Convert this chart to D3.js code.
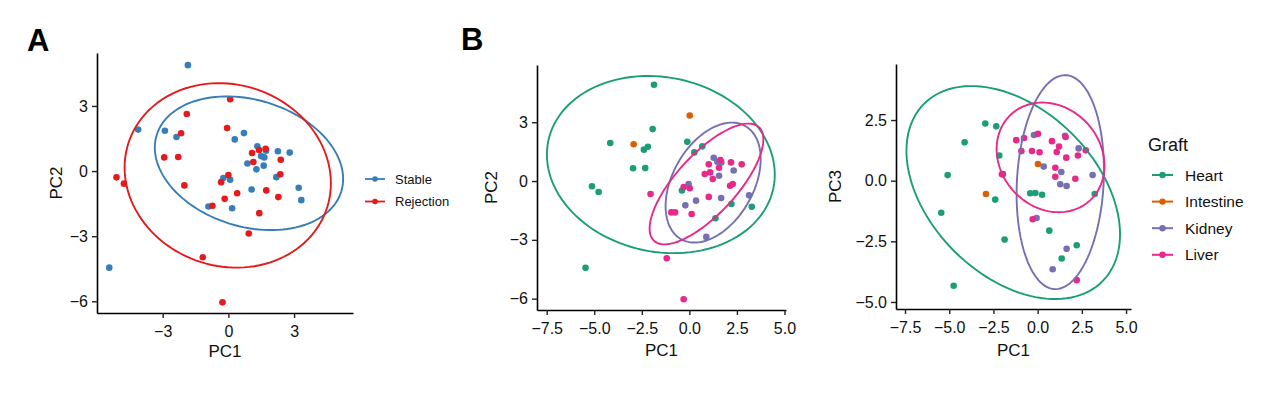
<!DOCTYPE html>
<html>
<head>
<meta charset="utf-8">
<script src="https://cdn.jsdelivr.net/npm/d3@7"></script>
<style>
  html, body { margin: 0; padding: 0; background: #fff; }
  svg { display: block; font-family: "Liberation Sans", Arial, Helvetica, sans-serif; }
</style>
</head>
<body>
<svg id="chart" width="1275" height="395"></svg>
<script>
// ---------------- DATA ----------------
// Panel A: PC1 vs PC2 by status
const statusGroups = ["Stable", "Rejection"];
const stablePoints = [
  [-1.85, 4.88], [-4.12, 1.91], [-2.90, 1.86], [-2.37, 1.57], [0.29, 1.46], [0.71, 1.75],
  [1.32, 1.14], [1.72, 0.94], [2.26, 0.91], [2.80, 0.85], [1.49, 0.69], [1.64, 0.63],
  [0.87, 0.35], [1.28, 0.08], [1.61, 0.25], [2.19, -0.28], [-0.23, -0.32], [0.08, -0.40],
  [1.06, -0.85], [3.21, -0.77], [3.33, -1.34], [-0.91, -1.63], [0.17, -1.71], [-5.44, -4.45]
];
const rejectionPoints = [
  [0.08, 3.31], [-1.90, 2.63], [-0.06, 1.98], [-2.16, 1.74], [-2.93, 0.63], [-2.29, 0.65],
  [1.08, 0.83], [1.40, 0.97], [1.70, 1.03], [1.14, 0.42], [2.39, 0.52], [-5.11, -0.29],
  [-4.77, -0.58], [-2.01, -0.66], [-0.33, -0.51], [0.00, -0.18], [-0.17, -1.28], [0.40, -1.02],
  [1.73, -0.89], [2.37, -0.15], [2.28, -1.20], [-0.73, -1.60], [1.41, -1.94], [0.93, -2.88],
  [-1.17, -3.97], [-0.27, -6.05]
];
// ellipses: [centerX, centerY, halfWidth, halfHeight, covarianceXY]
const stableEllipse = [0.94, 0.36, 4.3, 3.08, -3.1];
const rejectionEllipse = [-0.03, -0.2, 4.71, 4.25, -1.7];

// Panel B/C: by graft
const graftGroups = ["Heart", "Intestine", "Kidney", "Liver"];
const heartPC12 = [
  [-1.86, 4.91], [-1.93, 2.65], [-4.16, 1.94], [-2.39, 1.60], [-2.18, 1.75], [-2.96, 0.65],
  [-2.32, 0.66], [-0.11, 2.00], [0.26, 1.46], [0.68, 1.77], [-5.12, -0.27], [-4.77, -0.56],
  [-0.39, -0.48], [2.21, -1.17], [3.28, -1.31], [1.37, -1.90], [-5.46, -4.43]
];
const intestinePC12 = [[0.02, 3.34], [-2.93, 1.88]];
const kidneyPC12 = [
  [1.28, 1.19], [1.47, 0.98], [1.68, 0.95], [2.33, 0.54], [1.56, 0.27], [-0.04, -0.15],
  [0.35, -1.00], [1.67, -0.87], [-0.21, -1.24], [3.14, -0.73], [0.89, -2.85]
];
const liverPC12 = [
  [2.19, 0.95], [2.75, 0.85], [1.02, 0.85], [1.63, 1.07], [1.56, 0.68], [1.09, 0.44],
  [0.81, 0.36], [1.23, 0.10], [2.14, -0.24], [2.28, -0.15], [0.02, -0.37], [-0.30, -0.31],
  [-2.04, -0.66], [1.02, -0.81], [0.12, -1.68], [-0.95, -1.60], [-0.75, -1.60], [-1.19, -3.94],
  [-0.30, -6.03]
];
const heartEllipse12 = [-1.5, 0.84, 5.99, 4.52, -3.05];
const intestineEllipse12 = null;
const kidneyEllipse12 = [1.25, -0.08, 2.5, 3.06, 3.0];
const liverEllipse12 = [0.9, -0.15, 2.99, 3.08, 6.8];

const heartPC13 = [
  [-2.96, 2.36], [-2.34, 2.24], [-4.13, 1.58], [-2.17, 1.04], [-1.96, 0.27], [-5.09, 0.23],
  [-2.40, -0.78], [-0.42, -0.52], [-0.13, -0.51], [0.25, -0.58], [3.23, -0.55], [-5.45, -1.32],
  [-1.87, -2.43], [0.66, -2.06], [2.21, -2.66], [1.36, -3.21], [-4.75, -4.33]
];
const intestinePC13 = [[0.02, 0.69], [-2.92, -0.55]];
const kidneyPC13 = [
  [-0.21, 1.88], [1.55, 1.85], [2.32, 1.33], [0.34, 0.58], [1.34, 0.36], [3.11, 0.23],
  [1.28, -0.15], [1.64, -0.22], [-0.06, -1.54], [1.64, -2.81], [0.85, -3.65]
];
const liverPC13 = [
  [0.02, 1.93], [-1.21, 1.67], [-0.77, 1.76], [0.81, 1.63], [1.58, 1.80], [1.21, 1.41],
  [-0.92, 1.22], [-0.32, 1.22], [0.11, 1.17], [1.08, 1.18], [1.62, 0.95], [2.28, 1.04],
  [2.72, 1.25], [1.00, 0.53], [1.00, 0.16], [2.13, 0.08], [-2.02, 0.26], [-0.28, -1.59],
  [2.21, -4.10]
];
const heartEllipse13 = [-1.38, -0.49, 6.04, 4.39, -10.4];
const intestineEllipse13 = null;
const kidneyEllipse13 = [1.28, -0.06, 2.47, 4.41, 1.2];
const liverEllipse13 = [0.73, 0.96, 3.05, 2.26, -1.05];

// tick values
const ticksA_x = [-3, 0, 3];
const ticksA_y = [-6, -3, 0, 3];
const ticksB_x = [-7.5, -5, -2.5, 0, 2.5, 5];
const ticksB_y = [-6, -3, 0, 3];
const ticksC_x = [-7.5, -5, -2.5, 0, 2.5, 5];
const ticksC_y = [-5, -2.5, 0, 2.5];

// ---------------- STYLE ----------------
const statusColors = { Stable: "#377EB8", Rejection: "#E41A1C" };
const graftColors = { Heart: "#1B9E77", Intestine: "#D95F02", Kidney: "#7570B3", Liver: "#E7298A" };

const svg = d3.select("#chart");

function ellipsePoints(e) {
  const [cx, cy, W, H, sxy] = e;
  const l21 = sxy / W;
  const l22 = Math.sqrt(Math.max(H * H - l21 * l21, 1e-6));
  return d3.range(0, 361, 3).map(deg => {
    const t = deg * Math.PI / 180;
    return [cx + W * Math.cos(t), cy + l21 * Math.cos(t) + l22 * Math.sin(t)];
  });
}

function panel(cfg) {
  const x = d3.scaleLinear().domain(cfg.xDomain).range(cfg.xRange);
  const y = d3.scaleLinear().domain(cfg.yDomain).range(cfg.yRange);
  const g = svg.append("g");

  // axes
  const xAxis = d3.axisBottom(x).tickValues(cfg.xTicks).tickSize(5).tickPadding(4).tickFormat(cfg.xFmt).tickSizeOuter(0);
  const yAxis = d3.axisLeft(y).tickValues(cfg.yTicks).tickSize(5).tickPadding(4).tickFormat(cfg.yFmt).tickSizeOuter(0);
  const gx = g.append("g").attr("transform", `translate(0,${cfg.yRange[0]})`).call(xAxis);
  const gy = g.append("g").attr("transform", `translate(${cfg.xRange[0]},0)`).call(yAxis);
  [gx, gy].forEach(a => {
    a.select(".domain").attr("stroke", "#000").attr("stroke-width", 1.6);
    a.selectAll(".tick line").attr("stroke", "#222").attr("stroke-width", 1.4);
    a.selectAll(".tick text").attr("fill", "#111").attr("font-size", cfg.tickSize)
      .attr("font-family", "'Liberation Sans', Arial, sans-serif");
  });
  gx.selectAll(".tick text").attr("dy", "0.95em");

  // points
  const line = d3.line().x(d => x(d[0])).y(d => y(d[1])).curve(d3.curveLinearClosed);
  cfg.groups.forEach(gr => {
    g.append("g").selectAll("circle").data(gr.points).join("circle")
      .attr("cx", d => x(d[0])).attr("cy", d => y(d[1])).attr("r", 3.3)
      .attr("fill", gr.color);
  });
  cfg.groups.forEach(gr => {
    if (!gr.ellipse) return;
    g.append("path").attr("d", line(ellipsePoints(gr.ellipse)))
      .attr("fill", "none").attr("stroke", gr.color).attr("stroke-width", 1.9);
  });

  // axis titles
  const xm = (cfg.xRange[0] + cfg.xRange[1]) / 2;
  const ym = (cfg.yRange[0] + cfg.yRange[1]) / 2;
  g.append("text").attr("x", xm).attr("y", cfg.xTitleY).attr("text-anchor", "middle")
    .attr("font-size", 17).attr("fill", "#111").text(cfg.xTitle);
  g.append("text").attr("transform", `translate(${cfg.yTitleX},${ym}) rotate(-90)`)
    .attr("text-anchor", "middle").attr("font-size", 17).attr("fill", "#111").text(cfg.yTitle);
}

const fmtInt = d3.format("d");
const fmt1 = d3.format(".1f");

panel({
  xDomain: [-6.0, 5.69], xRange: [97, 353],
  yDomain: [-6.54, 5.44], yRange: [313, 53],
  xTicks: ticksA_x, yTicks: ticksA_y, xFmt: fmtInt, yFmt: fmtInt, tickSize: 16,
  xTitle: "PC1", yTitle: "PC2", xTitleY: 357, yTitleX: 62,
  groups: [
    { points: stablePoints, color: statusColors.Stable, ellipse: stableEllipse },
    { points: rejectionPoints, color: statusColors.Rejection, ellipse: rejectionEllipse }
  ]
});

panel({
  xDomain: [-8.01, 5.08], xRange: [537, 786],
  yDomain: [-6.58, 5.92], yRange: [310, 65],
  xTicks: ticksB_x, yTicks: ticksB_y, xFmt: fmt1, yFmt: fmtInt, tickSize: 16,
  xTitle: "PC1", yTitle: "PC2", xTitleY: 356, yTitleX: 497,
  groups: [
    { points: heartPC12, color: graftColors.Heart, ellipse: heartEllipse12 },
    { points: intestinePC12, color: graftColors.Intestine, ellipse: intestineEllipse12 },
    { points: kidneyPC12, color: graftColors.Kidney, ellipse: kidneyEllipse12 },
    { points: liverPC12, color: graftColors.Liver, ellipse: liverEllipse12 }
  ]
});

panel({
  xDomain: [-8.01, 5.28], xRange: [896, 1131],
  yDomain: [-5.29, 4.81], yRange: [309, 64],
  xTicks: ticksC_x, yTicks: ticksC_y, xFmt: fmt1, yFmt: fmt1, tickSize: 16,
  xTitle: "PC1", yTitle: "PC3", xTitleY: 356, yTitleX: 841,
  groups: [
    { points: heartPC13, color: graftColors.Heart, ellipse: heartEllipse13 },
    { points: intestinePC13, color: graftColors.Intestine, ellipse: intestineEllipse13 },
    { points: kidneyPC13, color: graftColors.Kidney, ellipse: kidneyEllipse13 },
    { points: liverPC13, color: graftColors.Liver, ellipse: liverEllipse13 }
  ]
});

// panel tags
svg.append("text").attr("x", 27).attr("y", 51).attr("font-size", 31).attr("font-weight", "bold").text("A");
svg.append("text").attr("x", 461).attr("y", 50).attr("font-size", 31).attr("font-weight", "bold").text("B");

// legend A
const legA = svg.append("g");
statusGroups.forEach((s, i) => {
  const yy = 179 + i * 22.5;
  legA.append("line").attr("x1", 365).attr("x2", 385).attr("y1", yy).attr("y2", yy)
    .attr("stroke", statusColors[s]).attr("stroke-width", 1.8);
  legA.append("circle").attr("cx", 375).attr("cy", yy).attr("r", 2.8).attr("fill", statusColors[s]);
  legA.append("text").attr("x", 395).attr("y", yy).attr("dy", "0.36em").attr("font-size", 13)
    .attr("fill", "#111").text(s);
});

// legend B
const legB = svg.append("g");
legB.append("text").attr("x", 1148).attr("y", 151).attr("font-size", 18).attr("fill", "#111").text("Graft");
graftGroups.forEach((s, i) => {
  const yy = 175 + i * 26.6;
  legB.append("line").attr("x1", 1152).attr("x2", 1173).attr("y1", yy).attr("y2", yy)
    .attr("stroke", graftColors[s]).attr("stroke-width", 2);
  legB.append("circle").attr("cx", 1162.5).attr("cy", yy).attr("r", 3.2).attr("fill", graftColors[s]);
  legB.append("text").attr("x", 1185).attr("y", yy).attr("dy", "0.36em").attr("font-size", 15.5)
    .attr("fill", "#111").text(s);
});
</script>
</body>
</html>
